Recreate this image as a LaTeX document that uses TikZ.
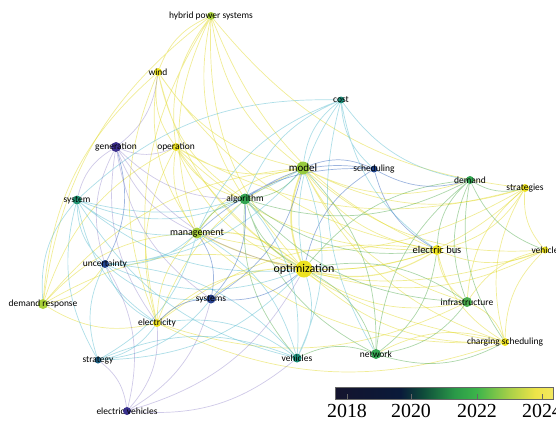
\documentclass[tikz,border=0pt]{standalone}
\usepackage{fontspec}
\setmainfont{Carlito}
\newfontfamily\barfont{Liberation Serif}
\usetikzlibrary{backgrounds}

% node colours
\definecolor{cyel}{HTML}{EDE221}
\definecolor{cyg}{HTML}{A9D13A}
\definecolor{cgrn}{HTML}{34A552}
\definecolor{cteal}{HTML}{1C8E7A}
\definecolor{cblue}{HTML}{22468F}
\definecolor{cpur}{HTML}{3B2E8C}
% edge colours
\definecolor{eyel}{HTML}{E2DA2E}
\definecolor{egrn}{HTML}{5AAE55}
\definecolor{ecyan}{HTML}{5DBDD0}
\definecolor{eblue}{HTML}{3D6CC0}
\definecolor{epur}{HTML}{7666BC}
% colour bar
\definecolor{bar0}{HTML}{14142E}
\definecolor{bar1}{HTML}{0A1A3A}
\definecolor{bar2}{HTML}{0E4A3A}
\definecolor{bar3}{HTML}{2A9A48}
\definecolor{bar4}{HTML}{3CB44A}
\definecolor{bar5}{HTML}{A8D048}
\definecolor{bar6}{HTML}{EEE448}
\definecolor{bar7}{HTML}{F2E860}
\pgfdeclarehorizontalshading{years}{100bp}{color(0bp)=(bar0); color(25bp)=(bar0);
  color(40bp)=(bar1); color(45bp)=(bar2); color(52.5bp)=(bar3); color(57.5bp)=(bar4);
  color(65bp)=(bar5); color(71bp)=(bar6); color(75bp)=(bar7); color(100bp)=(bar7)}

\begin{document}
\begin{tikzpicture}[x=1bp, y=-1bp,
    kw/.style={circle, inner sep=0pt, minimum size=#1},
    kw/.default=8bp,
    lab/.style={font=\fontsize{9.5}{10}\selectfont, text=black, inner sep=0pt},
    link/.style={line width=0.7bp, opacity=0.5, bend right=22},
    ey/.style={link, eyel},
    eg/.style={link, egrn},
    ec/.style={link, ecyan},
    eb/.style={link, eblue},
    ep/.style={link, epur, opacity=0.35}]
    \useasboundingbox (0,0) rectangle (556,422);

    % Nodes
    \node[kw=8bp, fill=cyg, label={[lab]center:hybrid power systems}] (hps) at (211,16) {};
    \node[kw=8bp, fill=cyel, label={[lab]center:wind}] (wind) at (158,72) {};
    \node[kw=10bp, fill=cpur, label={[lab]center:generation}] (gen) at (116,147) {};
    \node[kw=8bp, fill=cyel, label={[lab]center:operation}] (oper) at (176,147) {};
    \node[kw=9bp, fill=cteal!80!cgrn, label={[lab]center:system}] (system) at (77,200) {};
    \node[kw=11bp, fill=cgrn, label={[lab]center:algorithm}] (algo) at (245,199) {};
    \node[kw=13bp, fill=cyg!85!cgrn, label={[lab, font=\fontsize{11}{12}\selectfont]center:model}] (model) at (303,168) {};
    \node[kw=7bp, fill=cteal, label={[lab]center:cost}] (cost) at (341,100) {};
    \node[kw=7bp, fill=cblue, label={[lab]center:scheduling}] (sched) at (374,169) {};
    \node[kw=8bp, fill=cgrn, label={[lab]center:demand}] (demand) at (470,180) {};
    \node[kw=8bp, fill=cyel, label={[lab]center:strategies}] (strats) at (525,188) {};
    \node[kw=11bp, fill=cyg, label={[lab, font=\fontsize{10}{11}\selectfont]center:management}] (mgmt) at (197,233) {};
    \node[kw=8bp, fill=cblue, label={[lab]center:uncertainty}] (unc) at (105,264) {};
    \node[kw=17bp, fill=cyel, label={[lab, font=\fontsize{12}{13}\selectfont]center:optimization}] (opt) at (304,269) {};
    \node[kw=10bp, fill=cyel, label={[lab, font=\fontsize{10.5}{11}\selectfont]center:electric bus}] (ebus) at (437,250) {};
    \node[kw=7bp, fill=cyel, label={[lab]center:vehicle}] (vehicle) at (545,250) {};
    \node[kw=10bp, fill=cyg, label={[lab]center:demand response}] (dr) at (43,304) {};
    \node[kw=9bp, fill=cblue!80!cpur, label={[lab]center:systems}] (systems) at (211,299) {};
    \node[kw=8bp, fill=cyel, label={[lab]center:electricity}] (elec) at (157,323) {};
    \node[kw=10bp, fill=cgrn!80!cyg, label={[lab]center:infrastructure}] (infra) at (467,302) {};
    \node[kw=8bp, fill=cyel, label={[lab]center:charging scheduling}] (charg) at (505,342) {};
    \node[kw=7bp, fill=cblue!60!cteal, label={[lab]center:strategy}] (strat) at (98,360) {};
    \node[kw=10bp, fill=cgrn, label={[lab]center:network}] (network) at (376,354) {};
    \node[kw=9bp, fill=cteal, label={[lab]center:vehicles}] (vehicles) at (297,358) {};
    \node[kw=8bp, fill=cpur!90!cblue, label={[lab]center:electric vehicles}] (ev) at (127,411) {};

    % Links
    \begin{scope}[on background layer]
    \draw[ey] (hps) to (wind) (hps) to (oper) (hps) to (model) (hps) to (opt) (hps) to (mgmt)
        (hps) to (ebus) (hps) to (strats) (hps) to (algo) (hps) to (elec) (hps) to (dr);
    \draw[ey] (wind) to (oper) (wind) to (model) (wind) to (opt) (wind) to (mgmt) (wind) to (elec)
        (wind) to (ebus) (wind) to (dr) (wind) to (algo);
    \draw[ey] (oper) to (model) (oper) to (opt) (oper) to (mgmt) (oper) to (ebus) (oper) to (elec)
        (oper) to (dr) (oper) to (algo) (oper) to (charg) (oper) to (strats);
    \draw[ey] (model) to (mgmt) (model) to (ebus) (model) to (strats) (model) to (infra)
        (model) to (vehicle) (model) to (charg) (model) to (elec) (model) to (dr) (model) to (demand);
    \draw[ey, line width=1.6bp] (model) to (opt);
    \draw[ey, line width=1.1bp] (opt) to (ebus) (opt) to (mgmt);
    \draw[ey] (opt) to (strats) (opt) to (vehicle) (opt) to (infra) (opt) to (charg)
        (opt) to (dr) (opt) to (elec) (opt) to (systems);
    \draw[ey] (mgmt) to (ebus) (mgmt) to (dr) (mgmt) to (elec) (mgmt) to (strats)
        (mgmt) to (charg) (mgmt) to (vehicle);
    \draw[ey] (ebus) to (strats) (ebus) to (vehicle) (ebus) to (charg) (ebus) to (infra) (ebus) to (elec);
    \draw[ey] (strats) to (vehicle) (strats) to (charg) (strats) to (infra)
        (vehicle) to (charg) (vehicle) to (infra) (charg) to (infra) (charg) to (network)
        (dr) to (elec) (dr) to (unc) (elec) to (charg) (elec) to (infra);
    \draw[eg] (algo) to (model) (algo) to (opt) (algo) to (mgmt) (algo) to (network)
        (algo) to (vehicles) (algo) to (demand) (algo) to (ebus) (algo) to (infra);
    \draw[eg] (demand) to (infra) (demand) to (strats) (demand) to (ebus) (demand) to (network)
        (demand) to (opt) (demand) to (charg) (demand) to (vehicle);
    \draw[eg] (network) to (opt) (network) to (infra) (network) to (vehicles) (network) to (model)
        (network) to (ebus) (network) to (charg) (infra) to (opt);
    \draw[ec] (cost) to (model) (cost) to (algo) (cost) to (opt) (cost) to (sched) (cost) to (network)
        (cost) to (demand) (cost) to (mgmt) (cost) to (system) (cost) to (ebus);
    \draw[ec] (system) to (unc) (system) to (mgmt) (system) to (algo) (system) to (opt) (system) to (strat)
        (system) to (elec) (system) to (model) (system) to (dr) (system) to (vehicles);
    \draw[ec] (vehicles) to (opt) (vehicles) to (algo) (vehicles) to (mgmt) (vehicles) to (strat)
        (vehicles) to (unc) (vehicles) to (elec) (vehicles) to (model);
    \draw[ec] (unc) to (mgmt) (unc) to (opt) (unc) to (strat) (unc) to (systems) (unc) to (elec)
        (unc) to (algo) (unc) to (model) (strat) to (elec) (strat) to (mgmt) (strat) to (opt)
        (strat) to (systems);
    \draw[eb] (sched) to (model) (sched) to (opt) (sched) to (algo) (sched) to (ebus) (sched) to (demand)
        (sched) to (mgmt) (systems) to (opt) (systems) to (mgmt) (systems) to (model)
        (systems) to (algo) (systems) to (elec) (unc) to (gen);
    \draw[ep] (gen) to (system) (gen) to (wind) (gen) to (oper) (gen) to (algo) (gen) to (opt)
        (gen) to (mgmt) (gen) to (unc) (gen) to (systems) (gen) to (elec);
    \draw[ep] (ev) to (strat) (ev) to (elec) (ev) to (unc) (ev) to (systems) (ev) to (opt) (ev) to (vehicles);
    \end{scope}

    % Colour bar
    \shade[shading=years, draw=black!60, line width=0.4bp] (335,387) rectangle (553,399);
    \foreach \yr/\px in {2018/347, 2020/411, 2022/477, 2024/542} {
        \draw[black!60, line width=0.5bp] (\px,394) -- (\px,399);
        \node[font=\barfont\fontsize{20}{20}\selectfont, inner sep=0pt] at (\px,411) {\yr};
    }
\end{tikzpicture}
\end{document}
